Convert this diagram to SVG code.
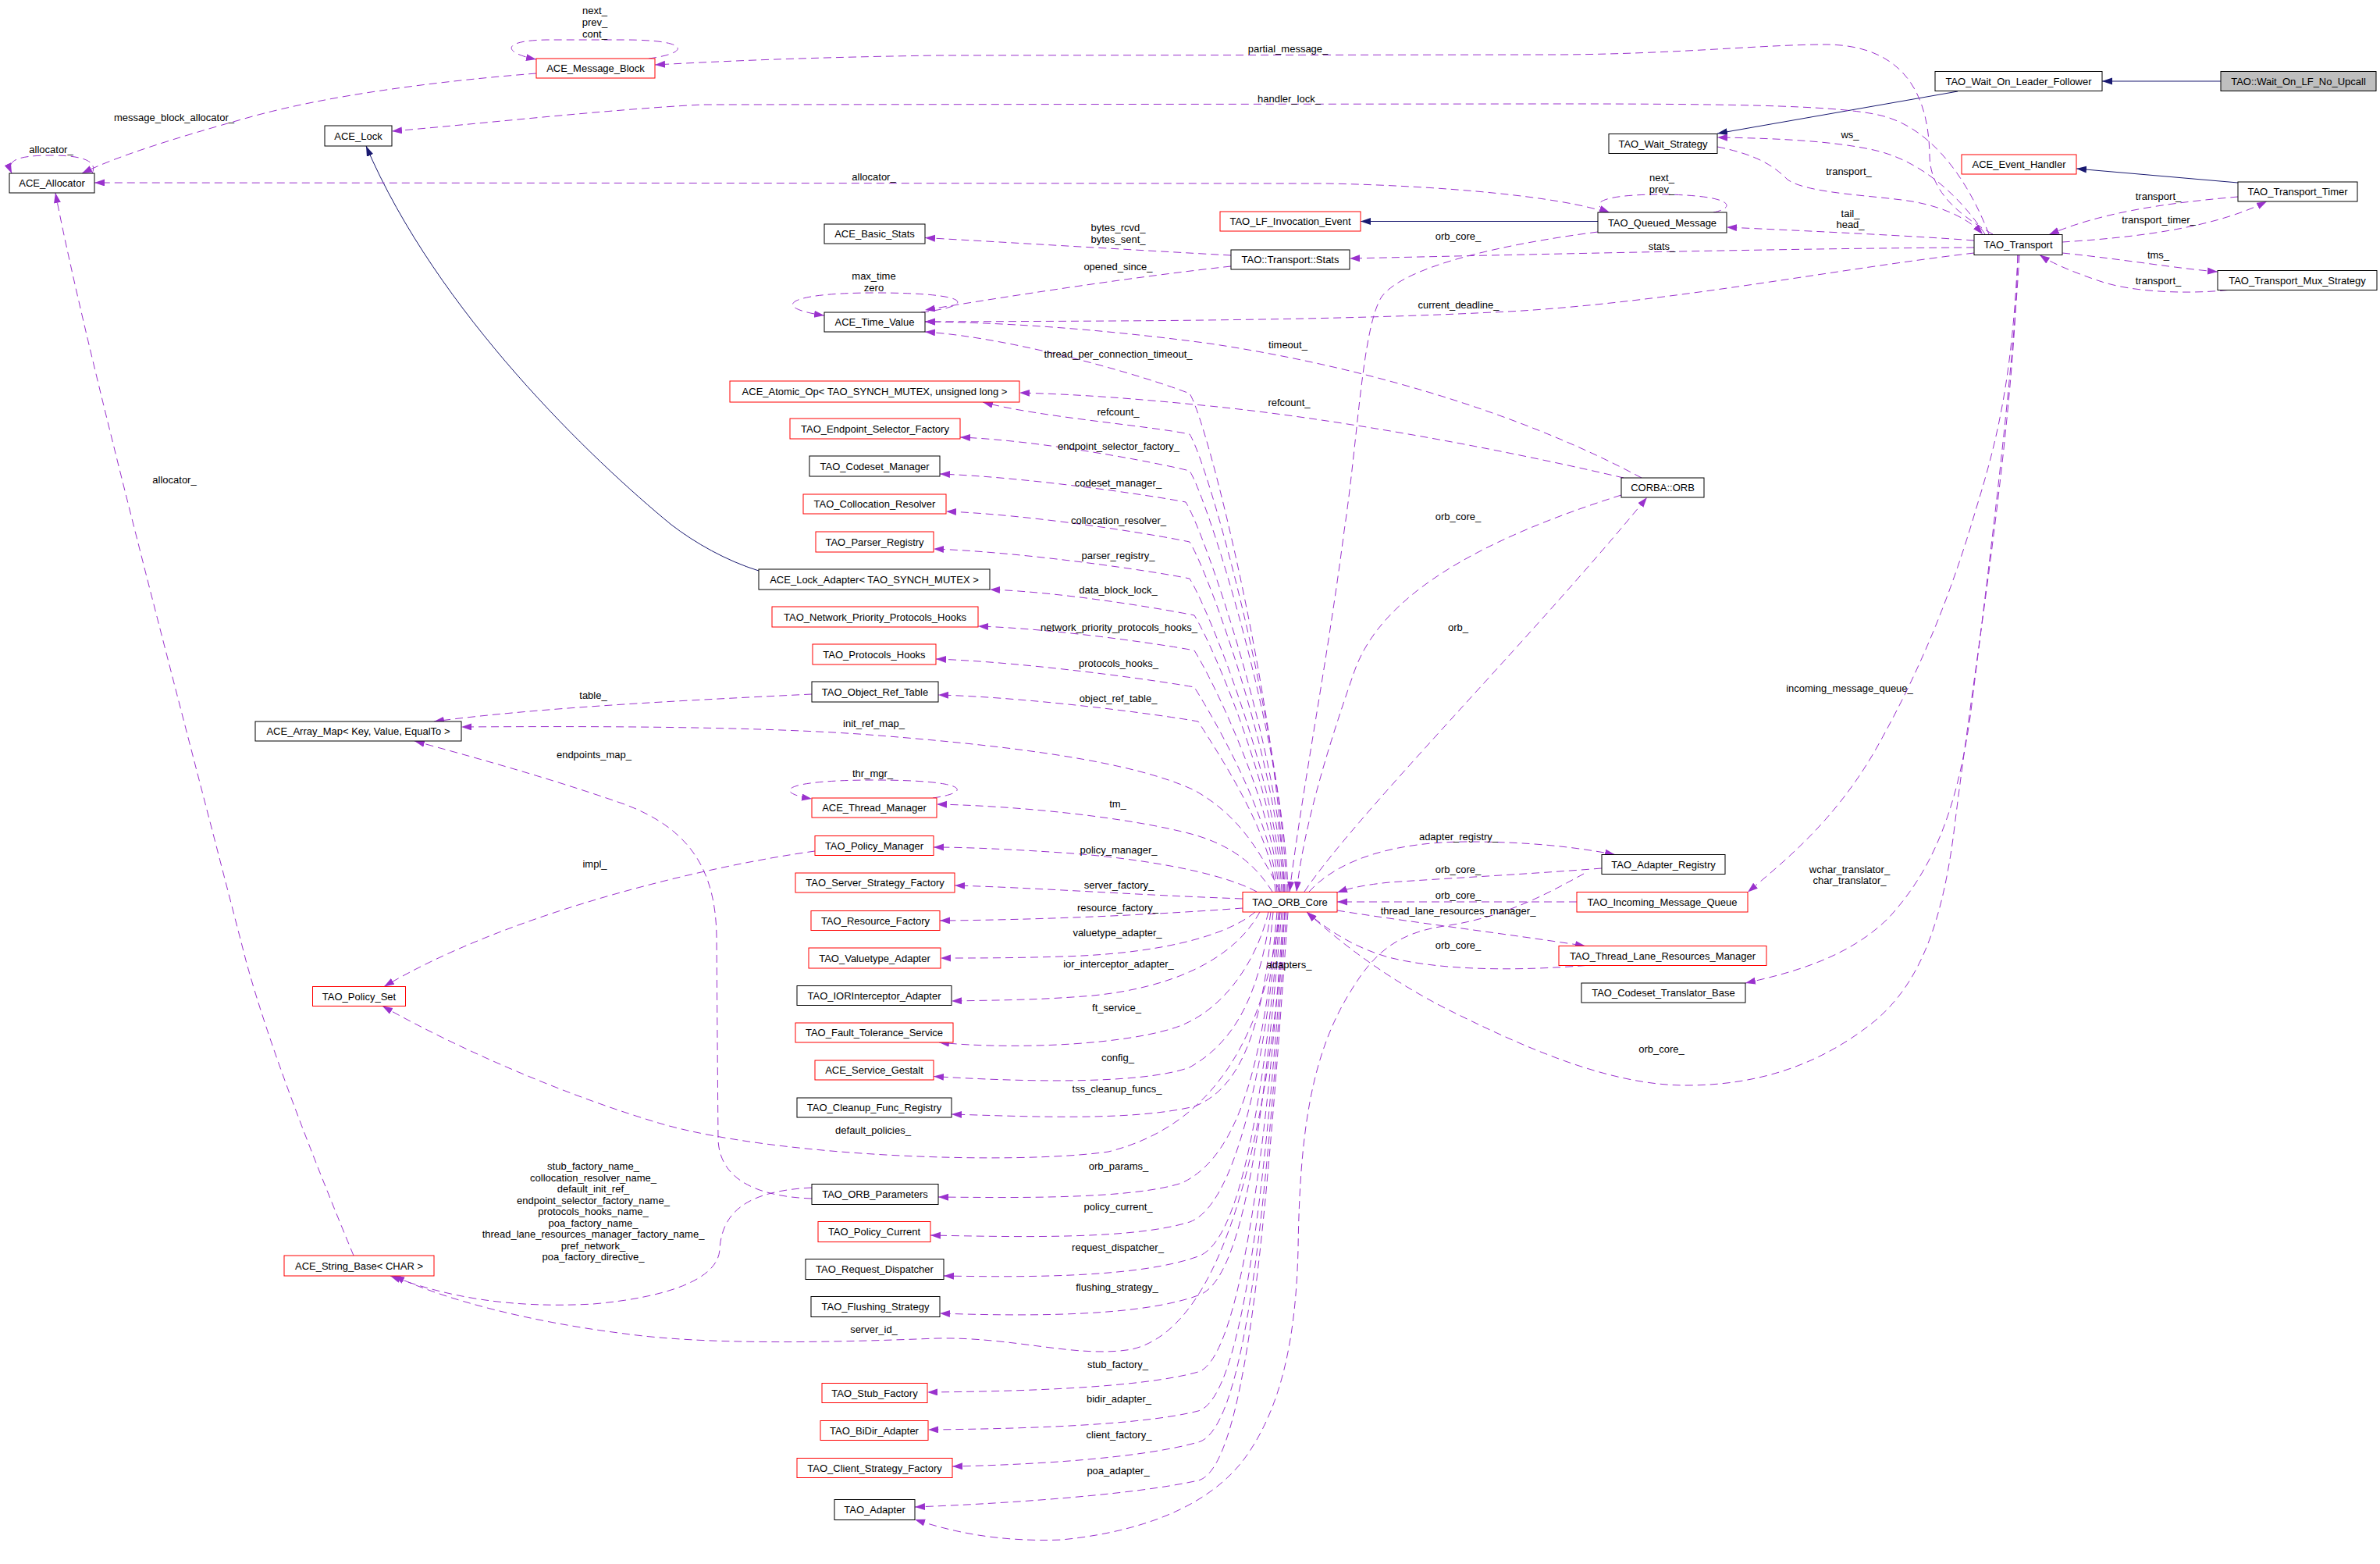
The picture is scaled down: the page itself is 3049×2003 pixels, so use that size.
<svg xmlns="http://www.w3.org/2000/svg" width="3049" height="2003" viewBox="0 0 3049 2003">
<style>
.n rect{fill:#fff;stroke:#000;stroke-width:1}
.n.r rect{stroke:#f00}
.n.g rect{fill:#bfbfbf}
text{font-family:"Liberation Sans",Arial,sans-serif;font-size:13px;fill:#000;text-anchor:middle}
#edges path{fill:none;stroke:#9a32cd;stroke-width:1;stroke-dasharray:10,6;marker-end:url(#ap)}
#edges path.b{stroke:#191970;stroke-dasharray:none;marker-end:url(#ab)}
</style>
<defs>
<marker id="ap" markerUnits="userSpaceOnUse" markerWidth="14" markerHeight="10" refX="13" refY="4.5" orient="auto"><path d="M0,0 L13,4.5 L0,9 Z" fill="#9a32cd"/></marker>
<marker id="ab" markerUnits="userSpaceOnUse" markerWidth="14" markerHeight="10" refX="13" refY="4.5" orient="auto"><path d="M0,0 L13,4.5 L0,9 Z" fill="#191970"/></marker>
</defs>
<rect width="3049" height="2003" fill="#fff"/>
<g id="edges">
<path class="b" d="M2845,104 L2693,104"/>
<path class="b" d="M2508,117 L2200,171"/>
<path class="b" d="M2867,234 L2660,216"/>
<path class="b" d="M2047,283.5 L1743,283.5"/>
<path class="b" d="M972,731 C930,718 890,695 860,672 C760,590 560,400 469,187"/>
<path d="M831,75 C885,68 885,51 800,51 L700,51 C640,52 645,68 687,76"/>
<path d="M687,94 C560,104 420,122 320,150 C220,178 150,200 105,222"/>
<path d="M118,222 C125,208 110,199 66,199 C20,199 8,206 15,222"/>
<path d="M2058,272 C2000,252 1850,238 1700,235 L121,234"/>
<path d="M2553,300 C2500,270 2473,240 2472,200 C2471,110 2430,58 2340,57 C2260,57 2150,69 2000,70 L1200,71 C1000,74 900,80 839,83"/>
<path d="M2548,300 C2525,240 2480,165 2410,148 C2360,136 2250,133 2000,133 L900,134 C780,140 600,160 502,168"/>
<path d="M2543,300 C2510,250 2460,205 2400,192 C2350,181 2280,177 2200,176"/>
<path d="M2200,188 C2250,198 2272,212 2290,230 C2315,248 2400,250 2450,258 C2495,266 2525,283 2540,300"/>
<path d="M2195,272 C2225,266 2222,250 2130,249 C2045,249 2035,262 2062,272"/>
<path d="M2529,308 C2450,302 2320,296 2212,291"/>
<path d="M2529,317 C2300,318 2000,325 1729,331"/>
<path d="M2529,324 C2350,345 2150,385 1950,398 C1700,412 1400,411 1185,412"/>
<path d="M1577,341 C1450,355 1300,378 1185,397"/>
<path d="M1577,327 C1450,320 1300,311 1185,304.5"/>
<path d="M1180,400 C1250,392 1250,375 1121,375 C1000,375 990,395 1056,404"/>
<path d="M2642,310 C2720,305 2830,295 2904,258"/>
<path d="M2867,252 C2800,258 2700,268 2625,300.5"/>
<path d="M2642,324 C2720,332 2790,344 2841,348"/>
<path d="M2854,371.5 C2800,377 2730,374 2690,360 C2660,350 2630,338 2613,326.5"/>
<path d="M2585,327 C2580,550 2530,850 2505,1050 C2490,1180 2460,1260 2400,1309 C2330,1365 2250,1390 2160,1390 C2060,1390 1950,1340 1855,1293 C1780,1255 1720,1210 1674,1168"/>
<path d="M2585,327 C2578,480 2560,560 2532,650 C2500,760 2460,860 2400,965 C2350,1050 2290,1100 2239,1142.5"/>
<path d="M2587,327 C2577,500 2545,750 2524,918 C2505,1050 2470,1120 2420,1175 C2370,1225 2300,1245 2236,1259"/>
<path d="M1671,1142 C1740,1040 1960,820 2110,637"/>
<path d="M2077,634 C1900,690 1770,760 1735,860 C1700,960 1670,1060 1661,1142"/>
<path d="M2047,297 C1930,312 1800,340 1770,380 C1745,420 1740,560 1722,680 C1700,850 1670,1000 1652,1142"/>
<path d="M2080,612 C1900,570 1700,535 1550,520 C1450,510 1380,505 1306,503"/>
<path d="M2103,612 C1950,530 1750,470 1550,440 C1400,420 1280,413 1185,412"/>
<path d="M1645,1142 C1640,919 1549,544 1524,504 C1473,484 1304,433 1185,425"/>
<path d="M1648,1142 C1643,937 1549,596 1524,556 C1470,545 1330,534 1259,515"/>
<path d="M1650,1142 C1645,953 1549,643 1524,603 C1480,592 1333,564 1230,560"/>
<path d="M1646,1142 C1641,967 1544,683 1519,643 C1472,634 1314,611 1204,607"/>
<path d="M1644,1142 C1639,985 1549,734 1524,694 C1477,684 1321,659 1212,655"/>
<path d="M1642,1142 C1637,1002 1549,781 1524,741 C1475,731 1311,707 1196,703"/>
<path d="M1640,1142 C1635,1018 1555,828 1530,788 C1491,780 1360,758 1268,755"/>
<path d="M1638,1142 C1633,1034 1555,873 1530,833 C1488,825 1350,805 1253,802"/>
<path d="M1636,1142 C1631,1050 1555,920 1530,880 C1480,871 1315,848 1199,844"/>
<path d="M1634,1142 C1629,1066 1560,964 1535,924 C1485,915 1319,893 1202,890"/>
<path d="M1640,1142 C1610,1080 1580,1040 1530,1012 C1450,975 1300,955 1100,940 C950,930 750,930 591,931"/>
<path d="M1630,1142 C1610,1110 1580,1080 1514,1065 C1430,1045 1300,1032 1200,1030"/>
<path d="M1610,1142 C1560,1115 1450,1098 1360,1092 C1300,1088 1240,1085 1196,1085"/>
<path d="M1195,1022 C1245,1015 1245,999 1120,999 C1000,999 990,1015 1040,1023"/>
<path d="M1592,1151 C1450,1146 1330,1137 1223,1134"/>
<path d="M1592,1163 C1500,1170 1350,1178 1204,1179"/>
<path d="M1608,1168 C1570,1200 1480,1222 1360,1225 C1300,1227 1250,1227 1205,1227"/>
<path d="M1614,1168 C1580,1230 1500,1265 1400,1275 C1330,1281 1270,1281 1219,1282"/>
<path d="M1625,1168 C1610,1230 1570,1290 1514,1313 C1450,1338 1300,1345 1203,1335"/>
<path d="M1628,1168 C1615,1260 1590,1330 1524,1367 C1460,1390 1300,1385 1196,1378.5"/>
<path d="M1631,1168 C1620,1290 1600,1390 1530,1417 C1450,1436 1320,1430 1219,1427"/>
<path d="M1636,1168 C1620,1350 1590,1480 1514,1515 C1450,1536 1300,1534 1202,1533"/>
<path d="M1638,1168 C1620,1380 1580,1545 1524,1565 C1450,1588 1300,1584 1192,1582"/>
<path d="M1640,1168 C1620,1400 1590,1590 1535,1609 C1460,1636 1320,1636 1209,1634"/>
<path d="M1642,1168 C1620,1420 1595,1640 1535,1659 C1460,1686 1320,1686 1204,1682"/>
<path d="M1644,1168 C1625,1450 1590,1740 1535,1757 C1460,1778 1300,1782 1188,1783"/>
<path d="M1646,1168 C1625,1480 1595,1790 1535,1807 C1460,1826 1300,1830 1189,1831"/>
<path d="M1648,1168 C1625,1500 1600,1830 1535,1847 C1460,1868 1320,1876 1220,1878"/>
<path d="M1650,1168 C1625,1520 1600,1880 1535,1896 C1450,1915 1280,1926 1172,1930"/>
<path d="M1677,1142 C1720,1095 1800,1078 1880,1078 C1960,1078 2020,1085 2069,1094.5"/>
<path d="M2052,1112 C1950,1120 1850,1125 1780,1130 C1750,1133 1730,1137 1713,1143"/>
<path d="M2020,1155 L1713,1155"/>
<path d="M1713,1166 C1800,1180 1930,1196 2031,1211.5"/>
<path d="M2031,1236.5 C1950,1243 1850,1244 1779,1226 C1740,1215 1705,1195 1674,1168"/>
<path d="M2029,1119 C1990,1140 1930,1175 1850,1186 C1790,1195 1760,1220 1730,1270 C1680,1350 1665,1450 1663,1600 C1660,1720 1640,1800 1600,1860 C1560,1920 1480,1960 1360,1972 C1280,1975 1220,1962 1172,1946"/>
<path d="M1040,889 C900,896 700,905 556,924"/>
<path d="M1040,1535 C960,1532 922,1505 920,1460 L918,1200 C917,1110 880,1060 800,1030 C700,995 600,968 531,949"/>
<path d="M1044,1090 C900,1110 650,1170 492,1263.5"/>
<path d="M1640,1168 C1620,1320 1560,1440 1420,1475 C1300,1492 1000,1482 850,1440 C730,1405 590,1345 490,1288.5"/>
<path d="M1040,1521 C960,1525 925,1550 922,1600 C920,1640 850,1662 760,1670 C650,1676 570,1660 500,1634"/>
<path d="M1646,1168 C1625,1450 1570,1700 1450,1728 C1380,1740 1300,1712 1200,1714 C1050,1720 900,1722 800,1708 C680,1693 570,1665 505,1634"/>
<path d="M453,1608 C400,1480 345,1340 315,1230 C230,900 110,450 71,247"/>
<text x="762" y="18">next_</text><text x="762" y="32.5">prev_</text><text x="762" y="47.5">cont_</text>
<text x="1650" y="67">partial_message_</text>
<text x="1651.5" y="130.5">handler_lock_</text>
<text x="223" y="154.5">message_block_allocator_</text>
<text x="65.5" y="195.5">allocator_</text>
<text x="1119.5" y="230.5">allocator_</text>
<text x="223.5" y="618.5">allocator_</text>
<text x="2370" y="176.5">ws_</text>
<text x="2368.5" y="224">transport_</text>
<text x="2129" y="231.5">next_</text><text x="2129" y="246.5">prev_</text>
<text x="2370.5" y="278">tail_</text><text x="2370.5" y="292">head_</text>
<text x="1868" y="307">orb_core_</text>
<text x="2129" y="320">stats_</text>
<text x="1432.5" y="296">bytes_rcvd_</text><text x="1432.5" y="311">bytes_sent_</text>
<text x="1432.5" y="346">opened_since_</text>
<text x="1119.5" y="358">max_time</text><text x="1119.5" y="372.5">zero</text>
<text x="1868.5" y="395">current_deadline_</text>
<text x="1650" y="446">timeout_</text>
<text x="1432.5" y="458">thread_per_connection_timeout_</text>
<text x="1651.5" y="520">refcount_</text>
<text x="1432.5" y="531.5">refcount_</text>
<text x="1433" y="575.5">endpoint_selector_factory_</text>
<text x="1432.5" y="622.5">codeset_manager_</text>
<text x="1433" y="671">collocation_resolver_</text>
<text x="1868" y="666">orb_core_</text>
<text x="1432.5" y="716">parser_registry_</text>
<text x="1432.5" y="759.5">data_block_lock_</text>
<text x="1433.5" y="808">network_priority_protocols_hooks_</text>
<text x="1868" y="808">orb_</text>
<text x="1433" y="854">protocols_hooks_</text>
<text x="2369.5" y="886">incoming_message_queue_</text>
<text x="1432.5" y="898.5">object_ref_table_</text>
<text x="760" y="894.5">table_</text>
<text x="1119.5" y="930.5">init_ref_map_</text>
<text x="761" y="971">endpoints_map_</text>
<text x="1118" y="995">thr_mgr_</text>
<text x="1432" y="1033.5">tm_</text>
<text x="1868.5" y="1076">adapter_registry_</text>
<text x="1433" y="1092.5">policy_manager_</text>
<text x="762" y="1110.5">impl_</text>
<text x="1868" y="1118">orb_core_</text>
<text x="2369.5" y="1118">wchar_translator_</text><text x="2369.5" y="1132">char_translator_</text>
<text x="1433.5" y="1137.5">server_factory_</text>
<text x="1868" y="1151">orb_core_</text>
<text x="1432" y="1167">resource_factory_</text>
<text x="1868" y="1171">thread_lane_resources_manager_</text>
<text x="1431.5" y="1198.5">valuetype_adapter_</text>
<text x="1868" y="1215">orb_core_</text>
<text x="1433" y="1238.5">ior_interceptor_adapter_</text>
<text x="1651.5" y="1240">adapters_</text>
<text x="1430.5" y="1295">ft_service_</text>
<text x="2128.5" y="1348">orb_core_</text>
<text x="1432" y="1358.5">config_</text>
<text x="1431" y="1399">tss_cleanup_funcs_</text>
<text x="1118.5" y="1452">default_policies_</text>
<text x="1433" y="1498">orb_params_</text>
<text x="760" y="1498">stub_factory_name_</text>
<text x="760" y="1512.5">collocation_resolver_name_</text>
<text x="760" y="1527">default_init_ref_</text>
<text x="760" y="1541.5">endpoint_selector_factory_name_</text>
<text x="760" y="1556">protocols_hooks_name_</text>
<text x="760" y="1570.5">poa_factory_name_</text>
<text x="760" y="1585">thread_lane_resources_manager_factory_name_</text>
<text x="760" y="1599.5">pref_network_</text>
<text x="760" y="1614">poa_factory_directive_</text>
<text x="1432.5" y="1550">policy_current_</text>
<text x="1432" y="1602">request_dispatcher_</text>
<text x="1431" y="1652.5">flushing_strategy_</text>
<text x="1119.5" y="1707">server_id_</text>
<text x="1432" y="1751.5">stub_factory_</text>
<text x="1433.5" y="1795.5">bidir_adapter_</text>
<text x="1433.5" y="1842">client_factory_</text>
<text x="1432.5" y="1888">poa_adapter_</text>
<text x="2765" y="256">transport_</text>
<text x="2765.5" y="286">transport_timer_</text>
<text x="2765" y="331">tms_</text>
<text x="2765" y="364">transport_</text>
</g>
<g id="TAO_Wait_On_LF_No_Upcall" class="n g"><rect x="2845" y="91.5" width="199" height="25"/><text x="2944.5" y="108.5">TAO::Wait_On_LF_No_Upcall</text></g>
<g id="TAO_Wait_On_Leader_Follower" class="n"><rect x="2479" y="91.5" width="214" height="25"/><text x="2586" y="108.5">TAO_Wait_On_Leader_Follower</text></g>
<g id="TAO_Wait_Strategy" class="n"><rect x="2061" y="171.5" width="139" height="25"/><text x="2130.5" y="188.5">TAO_Wait_Strategy</text></g>
<g id="TAO_Transport" class="n"><rect x="2529" y="300.5" width="113" height="26"/><text x="2585.5" y="318">TAO_Transport</text></g>
<g id="ACE_Event_Handler" class="n r"><rect x="2513" y="198" width="147" height="25"/><text x="2586.5" y="215">ACE_Event_Handler</text></g>
<g id="TAO_Transport_Timer" class="n"><rect x="2867" y="233" width="153" height="25"/><text x="2943.5" y="250">TAO_Transport_Timer</text></g>
<g id="TAO_Transport_Mux_Strategy" class="n"><rect x="2841" y="346.5" width="204" height="25"/><text x="2943" y="363.5">TAO_Transport_Mux_Strategy</text></g>
<g id="TAO_Queued_Message" class="n"><rect x="2047" y="272" width="165" height="26"/><text x="2129.5" y="289.5">TAO_Queued_Message</text></g>
<g id="TAO_LF_Invocation_Event" class="n r"><rect x="1563" y="271" width="180" height="25"/><text x="1653" y="288">TAO_LF_Invocation_Event</text></g>
<g id="TAO_Transport_Stats" class="n"><rect x="1577" y="320" width="152" height="25"/><text x="1653" y="337">TAO::Transport::Stats</text></g>
<g id="ACE_Basic_Stats" class="n"><rect x="1056" y="287" width="129" height="25"/><text x="1120.5" y="304">ACE_Basic_Stats</text></g>
<g id="ACE_Time_Value" class="n"><rect x="1056" y="400" width="129" height="25"/><text x="1120.5" y="417">ACE_Time_Value</text></g>
<g id="ACE_Message_Block" class="n r"><rect x="687" y="75" width="152" height="25"/><text x="763" y="92">ACE_Message_Block</text></g>
<g id="ACE_Lock" class="n"><rect x="416" y="161" width="86" height="26"/><text x="459" y="178.5">ACE_Lock</text></g>
<g id="ACE_Allocator" class="n"><rect x="12" y="222" width="109" height="25"/><text x="66.5" y="239">ACE_Allocator</text></g>
<g id="CORBA_ORB" class="n"><rect x="2077" y="612" width="106" height="25"/><text x="2130" y="629">CORBA::ORB</text></g>
<g id="ACE_Atomic_Op" class="n r"><rect x="935" y="488" width="371" height="27"/><text x="1120.5" y="506">ACE_Atomic_Op&lt; TAO_SYNCH_MUTEX, unsigned long &gt;</text></g>
<g id="TAO_Endpoint_Selector_Factory" class="n r"><rect x="1012" y="536" width="218" height="26"/><text x="1121" y="553.5">TAO_Endpoint_Selector_Factory</text></g>
<g id="TAO_Codeset_Manager" class="n"><rect x="1037" y="584" width="167" height="26"/><text x="1120.5" y="601.5">TAO_Codeset_Manager</text></g>
<g id="TAO_Collocation_Resolver" class="n r"><rect x="1029" y="633" width="183" height="25"/><text x="1120.5" y="650">TAO_Collocation_Resolver</text></g>
<g id="TAO_Parser_Registry" class="n r"><rect x="1045" y="681" width="151" height="26"/><text x="1120.5" y="698.5">TAO_Parser_Registry</text></g>
<g id="ACE_Lock_Adapter" class="n"><rect x="972" y="729" width="296" height="26"/><text x="1120" y="746.5">ACE_Lock_Adapter&lt; TAO_SYNCH_MUTEX &gt;</text></g>
<g id="TAO_Network_Priority_Protocols_Hooks" class="n r"><rect x="989" y="777" width="264" height="26"/><text x="1121" y="794.5">TAO_Network_Priority_Protocols_Hooks</text></g>
<g id="TAO_Protocols_Hooks" class="n r"><rect x="1041" y="825" width="158" height="26"/><text x="1120" y="842.5">TAO_Protocols_Hooks</text></g>
<g id="TAO_Object_Ref_Table" class="n"><rect x="1040" y="873" width="162" height="26"/><text x="1121" y="890.5">TAO_Object_Ref_Table</text></g>
<g id="ACE_Array_Map" class="n"><rect x="327" y="924" width="264" height="25"/><text x="459" y="941">ACE_Array_Map&lt; Key, Value, EqualTo &gt;</text></g>
<g id="ACE_Thread_Manager" class="n r"><rect x="1040" y="1022" width="160" height="25"/><text x="1120" y="1039">ACE_Thread_Manager</text></g>
<g id="TAO_Policy_Manager" class="n r"><rect x="1044" y="1070.5" width="152" height="25"/><text x="1120" y="1087.5">TAO_Policy_Manager</text></g>
<g id="TAO_Policy_Set" class="n r"><rect x="400.5" y="1263.5" width="119" height="25"/><text x="460" y="1280.5">TAO_Policy_Set</text></g>
<g id="TAO_Server_Strategy_Factory" class="n r"><rect x="1019" y="1118" width="204" height="25"/><text x="1121" y="1135">TAO_Server_Strategy_Factory</text></g>
<g id="TAO_Resource_Factory" class="n r"><rect x="1039" y="1166.5" width="165" height="25"/><text x="1121.5" y="1183.5">TAO_Resource_Factory</text></g>
<g id="TAO_Valuetype_Adapter" class="n r"><rect x="1036" y="1214" width="169" height="26"/><text x="1120.5" y="1231.5">TAO_Valuetype_Adapter</text></g>
<g id="TAO_IORInterceptor_Adapter" class="n"><rect x="1021" y="1262.5" width="198" height="25"/><text x="1120" y="1279.5">TAO_IORInterceptor_Adapter</text></g>
<g id="TAO_Fault_Tolerance_Service" class="n r"><rect x="1019" y="1310" width="202" height="25"/><text x="1120" y="1327">TAO_Fault_Tolerance_Service</text></g>
<g id="ACE_Service_Gestalt" class="n r"><rect x="1044" y="1358" width="152" height="25"/><text x="1120" y="1375">ACE_Service_Gestalt</text></g>
<g id="TAO_Cleanup_Func_Registry" class="n"><rect x="1021" y="1406" width="198" height="25"/><text x="1120" y="1423">TAO_Cleanup_Func_Registry</text></g>
<g id="TAO_ORB_Parameters" class="n"><rect x="1040" y="1516.5" width="162" height="26"/><text x="1121" y="1534">TAO_ORB_Parameters</text></g>
<g id="TAO_Policy_Current" class="n r"><rect x="1048" y="1564.5" width="144" height="26"/><text x="1120" y="1582">TAO_Policy_Current</text></g>
<g id="TAO_Request_Dispatcher" class="n"><rect x="1032" y="1612.5" width="177" height="26"/><text x="1120.5" y="1630">TAO_Request_Dispatcher</text></g>
<g id="TAO_Flushing_Strategy" class="n"><rect x="1039" y="1660.5" width="165" height="26"/><text x="1121.5" y="1678">TAO_Flushing_Strategy</text></g>
<g id="ACE_String_Base" class="n r"><rect x="364" y="1608" width="192" height="26"/><text x="460" y="1625.5">ACE_String_Base&lt; CHAR &gt;</text></g>
<g id="TAO_Stub_Factory" class="n r"><rect x="1053" y="1771.5" width="135" height="25"/><text x="1120.5" y="1788.5">TAO_Stub_Factory</text></g>
<g id="TAO_BiDir_Adapter" class="n r"><rect x="1051" y="1819.5" width="138" height="25"/><text x="1120" y="1836.5">TAO_BiDir_Adapter</text></g>
<g id="TAO_Client_Strategy_Factory" class="n r"><rect x="1021" y="1867.5" width="199" height="25"/><text x="1120.5" y="1884.5">TAO_Client_Strategy_Factory</text></g>
<g id="TAO_Adapter" class="n"><rect x="1069" y="1920.5" width="103" height="26"/><text x="1120.5" y="1938">TAO_Adapter</text></g>
<g id="TAO_ORB_Core" class="n r"><rect x="1592" y="1142.5" width="121" height="25.5"/><text x="1652.5" y="1159.5">TAO_ORB_Core</text></g>
<g id="TAO_Adapter_Registry" class="n"><rect x="2052" y="1094.5" width="158" height="25"/><text x="2131" y="1111.5">TAO_Adapter_Registry</text></g>
<g id="TAO_Incoming_Message_Queue" class="n r"><rect x="2020" y="1142.5" width="219" height="25.5"/><text x="2129.5" y="1159.5">TAO_Incoming_Message_Queue</text></g>
<g id="TAO_Thread_Lane_Resources_Manager" class="n r"><rect x="1997" y="1211.5" width="266" height="25"/><text x="2130" y="1228.5">TAO_Thread_Lane_Resources_Manager</text></g>
<g id="TAO_Codeset_Translator_Base" class="n"><rect x="2026" y="1259" width="210" height="25"/><text x="2131" y="1276">TAO_Codeset_Translator_Base</text></g>
</svg>
